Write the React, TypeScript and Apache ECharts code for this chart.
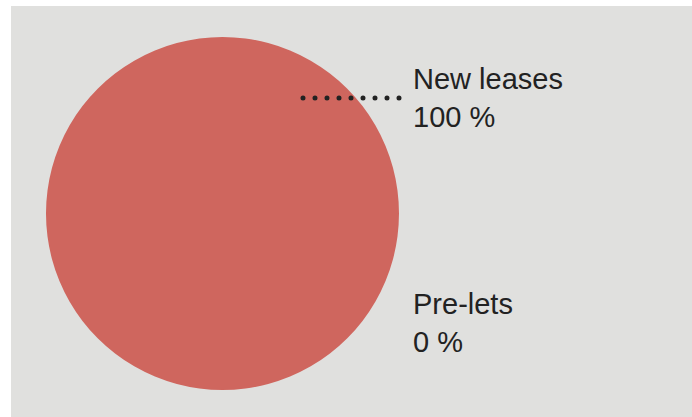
import React, { useEffect, useRef } from "react";
import * as echarts from "echarts";

const categories = ["New leases", "Pre-lets"];
const values = [100, 0];
const percentLabels = ["100 %", "0 %"];

const W = 692;
const H = 417;

export default function App() {
  const ref = useRef<HTMLDivElement>(null);
  useEffect(() => {
    if (!ref.current) return;
    const chart = echarts.init(ref.current, null, { renderer: "svg", width: W, height: H });
    const labelTops = [60, 285];
    chart.setOption({
      animation: false,
      backgroundColor: "transparent",
      graphic: [
        {
          type: "rect",
          z: -10,
          silent: true,
          shape: { x: 11, y: 6, width: W - 11, height: H - 6 },
          style: { fill: "#e0e0de" },
        },
        {
          type: "line",
          z: 100,
          silent: true,
          shape: { x1: 303, y1: 98, x2: 399.5, y2: 98 },
          style: { stroke: "#222222", lineWidth: 5, lineDash: [0, 12], lineCap: "round" },
        },
      ],
      series: [
        {
          type: "pie",
          center: [222.5, 213.5],
          radius: 176.5,
          startAngle: 90,
          clockwise: true,
          avoidLabelOverlap: false,
          itemStyle: { color: "#cf665e", borderWidth: 0 },
          emphasis: { disabled: true },
          label: {
            show: true,
            formatter: (p: any) => `${categories[p.dataIndex]}\n${percentLabels[p.dataIndex]}`,
            fontFamily: "Liberation Sans",
            fontSize: 29,
            lineHeight: 38,
            color: "#222222",
          },
          labelLine: { show: false },
          labelLayout: (params: any) => ({
            x: 413,
            y: labelTops[params.dataIndex],
            align: "left",
            verticalAlign: "top",
          }),
          data: categories.map((c, i) => ({ name: c, value: values[i] })),
        },
      ],
    });
    return () => chart.dispose();
  }, []);
  return (
    <div
      ref={ref}
      style={{ position: "absolute", left: 0, top: 0, width: W, height: H }}
    />
  );
}
